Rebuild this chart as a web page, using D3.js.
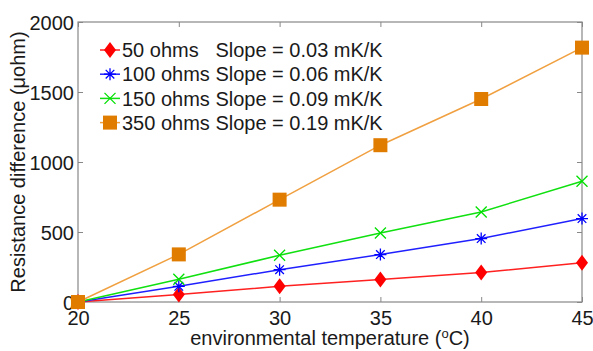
<!DOCTYPE html>
<html>
<head>
<meta charset="utf-8">
<script src="https://cdn.jsdelivr.net/npm/d3@7"></script>
<style>
  body { margin: 0; background: #fff; }
  text { font-family: "Liberation Sans", Arial, sans-serif; fill: #1a1a1a; }
</style>
</head>
<body>
<svg id="chart"></svg>
<script>
// Resistance difference vs environmental temperature
const temps = [20, 25, 30, 35, 40, 45];
const r50 = [0, 53, 112, 160, 210, 281];
const r100 = [0, 112, 231, 339, 453, 596];
const r150 = [0, 162, 334, 493, 643, 862];
const r350 = [0, 340, 731, 1120, 1450, 1817];
const xTicks = [20, 25, 30, 35, 40, 45];
const yTicks = [0, 500, 1000, 1500, 2000];
const seriesNames = ["50 ohms   Slope = 0.03 mK/K", "100 ohms Slope = 0.06 mK/K",
    "150 ohms Slope = 0.09 mK/K", "350 ohms Slope = 0.19 mK/K"];

const margin = { top: 22, right: 11, bottom: 49, left: 78 },
    W = 593, H = 351,
    width = W - margin.left - margin.right,
    height = H - margin.top - margin.bottom;

const root = d3.select("#chart").attr("width", W).attr("height", H);
const svg = root.append("g").attr("transform", `translate(${margin.left},${margin.top})`);

const x = d3.scaleLinear().domain([20, 45]).range([0, width]);
const y = d3.scaleLinear().domain([0, 2000]).range([height, 0]);

const series = [
    { name: seriesNames[0], values: r50, color: "#ff0000", line: "#ff2020", marker: "diamond" },
    { name: seriesNames[1], values: r100, color: "#0000ff", line: "#2020ff", marker: "asterisk" },
    { name: seriesNames[2], values: r150, color: "#00e000", line: "#10e010", marker: "cross" },
    { name: seriesNames[3], values: r350, color: "#e07c00", line: "#f0a040", marker: "square" }
];

// frame and ticks (inside, all four sides)
const axisColor = "#888";
svg.append("rect").attr("width", width).attr("height", height)
    .attr("fill", "none").attr("stroke", axisColor).attr("stroke-width", 1.2);

const xb = svg.append("g").attr("transform", `translate(0,${height})`)
    .call(d3.axisBottom(x).tickValues(xTicks).tickSize(-5).tickPadding(9).tickFormat(d3.format("d")));
const xt = svg.append("g")
    .call(d3.axisTop(x).tickValues(xTicks).tickSize(-5).tickFormat(""));
const yl = svg.append("g")
    .call(d3.axisLeft(y).tickValues(yTicks).tickSize(-5).tickPadding(4).tickFormat(d3.format("d")));
const yr = svg.append("g").attr("transform", `translate(${width},0)`)
    .call(d3.axisRight(y).tickValues(yTicks).tickSize(-5).tickFormat(""));

[xb, xt, yl, yr].forEach(g => {
    g.select(".domain").remove();
    g.selectAll("line").attr("stroke", axisColor);
    g.selectAll("text").style("font-size", "20px").attr("fill", "#1a1a1a");
});
xb.selectAll("text").attr("dy", "0.71em");
yl.selectAll("text").attr("dy", "0.36em");

function drawMarker(g, type, color) {
    if (type === "diamond") {
        g.append("path").attr("d", "M0,-8L6,0L0,8L-6,0Z").attr("fill", color);
    } else if (type === "square") {
        g.append("rect").attr("x", -7).attr("y", -7).attr("width", 14).attr("height", 14)
            .attr("fill", color);
    } else if (type === "asterisk") {
        g.append("path").attr("d", "M-6,0H6M0,-6V6M-4.3,-4.3L4.3,4.3M-4.3,4.3L4.3,-4.3")
            .attr("stroke", color).attr("stroke-width", 1.3).attr("fill", "none");
    } else if (type === "cross") {
        g.append("path").attr("d", "M-5.5,-5.5L5.5,5.5M-5.5,5.5L5.5,-5.5")
            .attr("stroke", color).attr("stroke-width", 1.3).attr("fill", "none");
    }
}

const line = d3.line().x((d, i) => x(temps[i])).y(d => y(d));

series.forEach(s => {
    svg.append("path")
        .datum(s.values)
        .attr("fill", "none")
        .attr("stroke", s.line)
        .attr("stroke-width", 1.5)
        .attr("d", line);
});
series.forEach(s => {
    s.values.forEach((v, i) => {
        const g = svg.append("g").attr("transform", `translate(${x(temps[i])},${y(v)})`);
        drawMarker(g, s.marker, s.color);
    });
});

// legend
const legend = svg.selectAll(".legend")
    .data(series)
    .enter().append("g")
    .attr("class", "legend")
    .attr("transform", (d, i) => `translate(22,${28 + i * 24.2})`);

legend.append("line")
    .attr("x1", 0).attr("x2", 20)
    .attr("stroke", d => d.line).attr("stroke-width", 1.5);
legend.each(function (d) {
    drawMarker(d3.select(this).append("g").attr("transform", "translate(10,0)"), d.marker, d.color);
});
legend.append("text")
    .attr("x", 22)
    .attr("dy", "0.36em")
    .style("font-size", "20px")
    .style("white-space", "pre")
    .text(d => d.name);

// axis labels
const xLabel = root.append("text")
    .attr("x", margin.left + width / 2)
    .attr("y", 345)
    .attr("text-anchor", "middle")
    .style("font-size", "20px");
xLabel.append("tspan").text("environmental temperature (");
xLabel.append("tspan").attr("dy", -7).style("font-size", "13px").text("o");
xLabel.append("tspan").attr("dy", 7).text("C)");

root.append("text")
    .attr("transform", `translate(18,${margin.top + height / 2}) rotate(-90)`)
    .attr("text-anchor", "middle")
    .attr("dy", "0.36em")
    .style("font-size", "20px")
    .text("Resistance difference (\u03bcohm)");
</script>
</body>
</html>
